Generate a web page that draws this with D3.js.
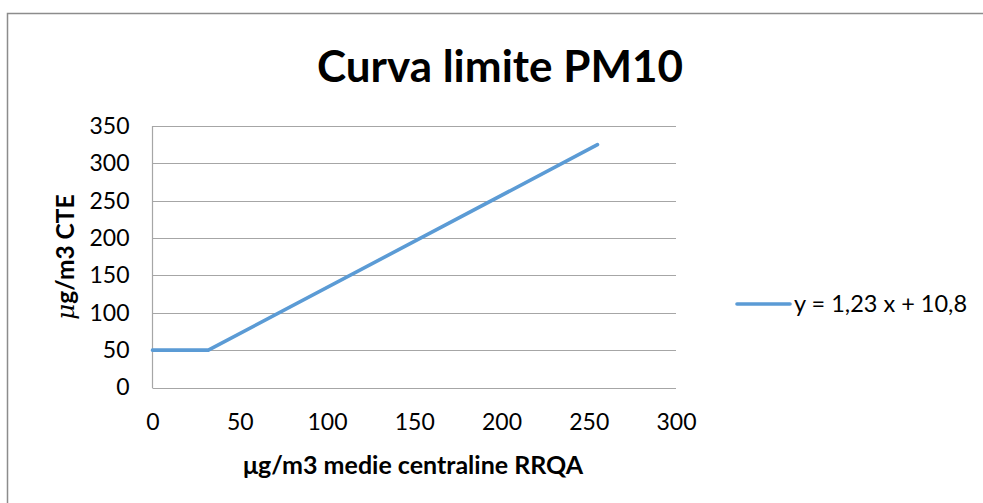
<!DOCTYPE html>
<html><head><meta charset="utf-8">
<script src="https://cdn.jsdelivr.net/npm/d3@7"></script>
<style>
html,body{margin:0;padding:0;background:#fff;}
svg{display:block;}
text{font-family:Lato,"Open Sans",sans-serif;fill:#000;}
</style></head>
<body>
<script>
const chartTitle = "Curva limite PM10";
const xTitle = "μg/m3 medie centraline RRQA";
const yTitleMu = "μ";
const yTitleRest = "g/m3 CTE";
const seriesName = "y = 1,23 x + 10,8";
const xValues = [0, 32, 255];
const yValues = [50, 50, 325];
const xTicks = [0, 50, 100, 150, 200, 250, 300];
const yTicks = [0, 50, 100, 150, 200, 250, 300, 350];

(function () {
const W = 983, H = 503;
const svg = d3.select("body").append("svg").attr("width", W).attr("height", H);

// outer frame
svg.append("rect").attr("x", 7.5).attr("y", 13.5).attr("width", 1000).attr("height", 600)
  .attr("fill", "none").attr("stroke", "#8c8c8c").attr("stroke-width", 1.5);

const pL = 152.5, pR = 676, pT = 126, pB = 387.5;
const x = d3.scaleLinear().domain([0, 300]).range([pL, pR]);
const y = d3.scaleLinear().domain([0, 350]).range([pB, pT]);

// gridlines
svg.append("g").selectAll("line").data(yTicks).join("line")
  .attr("x1", pL).attr("x2", pR)
  .attr("y1", d => Math.round(y(d)) + 0.5).attr("y2", d => Math.round(y(d)) + 0.5)
  .attr("stroke", "#a6a6a6").attr("stroke-width", 1);

// y axis line
svg.append("line").attr("x1", pL).attr("x2", pL).attr("y1", pT).attr("y2", pB + 0.5)
  .attr("stroke", "#a6a6a6").attr("stroke-width", 1.2);

// y axis labels
const yAxis = d3.axisLeft(y).tickValues(yTicks).tickSize(0).tickPadding(23);
const gy = svg.append("g").attr("transform", `translate(${pL},0)`).call(yAxis);
gy.select(".domain").remove();
gy.selectAll("text").attr("font-family", "Lato, sans-serif").attr("font-size", 23).attr("fill", "#000");

// x axis labels
const xAxis = d3.axisBottom(x).tickValues(xTicks).tickSize(0).tickPadding(26);
const gx = svg.append("g").attr("transform", `translate(0,${pB})`).call(xAxis);
gx.select(".domain").remove();
gx.selectAll("text").attr("font-family", "Lato, sans-serif").attr("font-size", 23).attr("fill", "#000");

// series line
const pts = xValues.map((v, i) => [v, yValues[i]]);
svg.append("path").datum(pts)
  .attr("d", d3.line().x(d => x(d[0])).y(d => y(d[1])))
  .attr("fill", "none").attr("stroke", "#5b9bd5").attr("stroke-width", 3.6)
  .attr("stroke-linecap", "round").attr("stroke-linejoin", "round");

// title
svg.append("text").attr("x", 500).attr("y", 82).attr("text-anchor", "middle")
  .attr("font-size", 44).attr("font-weight", "bold").text(chartTitle);

// x title
svg.append("text").attr("x", 413).attr("y", 474).attr("text-anchor", "middle")
  .attr("font-size", 25).attr("font-weight", "bold").text(xTitle);

// y title
const yt = svg.append("text").attr("transform", "translate(74,257) rotate(-90)")
  .attr("text-anchor", "middle").attr("font-size", 24.5);
yt.append("tspan").attr("font-style", "italic").attr("font-family", "DejaVu Serif, serif").text(yTitleMu);
yt.append("tspan").attr("font-weight", "bold").text(yTitleRest);

// legend
const lg = svg.append("g");
lg.append("line").attr("x1", 737).attr("x2", 790).attr("y1", 304).attr("y2", 304)
  .attr("stroke", "#5b9bd5").attr("stroke-width", 3.6).attr("stroke-linecap", "round");
lg.append("text").attr("x", 794).attr("y", 312).attr("font-size", 23.5).text(seriesName);
})();
</script>
</body></html>
